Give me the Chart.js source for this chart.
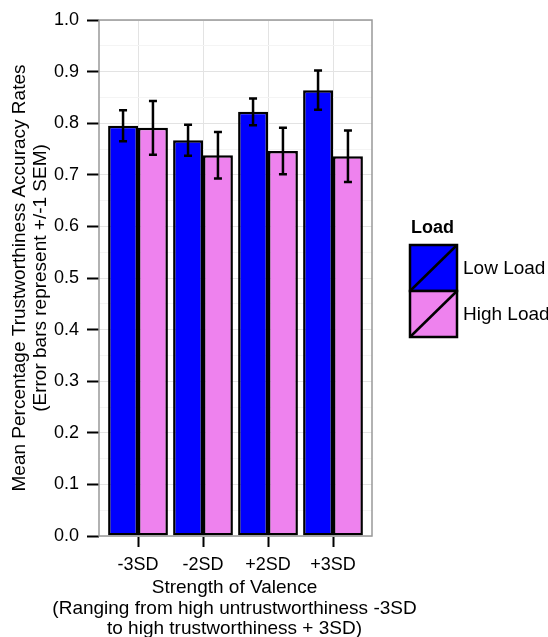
<!DOCTYPE html>
<html>
<head>
<meta charset="utf-8">
<script src="https://cdn.jsdelivr.net/npm/chart.js@4/dist/chart.umd.min.js"></script>
<style>
  body { margin: 0; background: #fff; }
  canvas { display: block; }
</style>
</head>
<body>
<canvas id="loadChart" width="548" height="637"></canvas>
<script>
const categories = ['-3SD', '-2SD', '+2SD', '+3SD'];
const lowLoad = [0.795, 0.767, 0.822, 0.864];
const lowLoadSem = [0.030, 0.030, 0.026, 0.038];
const highLoad = [0.791, 0.738, 0.746, 0.736];
const highLoadSem = [0.052, 0.045, 0.045, 0.050];
const xTitle = ['Strength of Valence',
    '(Ranging from high untrustworthiness -3SD',
    'to high trustworthiness + 3SD)'];
const yTitle = ['Mean Percentage Trustworthiness Accuracy Rates',
    '(Error bars represent +/-1 SEM)'];

const FONT = '"Liberation Sans", Arial, sans-serif';
Chart.defaults.font.family = FONT;
Chart.defaults.color = '#000';

// major gridlines every 0.1, faint minor ones in between
const isMajor = v => Math.round(v * 100) % 10 === 0;

// +/- 1 SEM whiskers on top of each bar
const errorBars = {
    id: 'errorBars',
    afterDatasetsDraw(chart) {
        const ctx = chart.ctx;
        const y = chart.scales.y;
        ctx.save();
        ctx.strokeStyle = '#000';
        ctx.lineWidth = 2.5;
        chart.data.datasets.forEach((ds, di) => {
            chart.getDatasetMeta(di).data.forEach((bar, i) => {
                const top = y.getPixelForValue(ds.data[i].y + ds.sem[i]);
                const bot = y.getPixelForValue(ds.data[i].y - ds.sem[i]);
                ctx.beginPath();
                ctx.moveTo(bar.x, top); ctx.lineTo(bar.x, bot);
                ctx.moveTo(bar.x - 4, top); ctx.lineTo(bar.x + 4, top);
                ctx.moveTo(bar.x - 4, bot); ctx.lineTo(bar.x + 4, bot);
                ctx.stroke();
            });
        });
        ctx.restore();
    }
};

// grey box round the plotting panel
const panelBorder = {
    id: 'panelBorder',
    afterDatasetsDraw(chart) {
        const { ctx, chartArea: a } = chart;
        ctx.save();
        ctx.strokeStyle = '#999';
        ctx.lineWidth = 1.5;
        ctx.strokeRect(a.left, a.top, a.right - a.left, a.bottom - a.top);
        ctx.restore();
    }
};

// axis titles drawn by hand: the x one is wider than the panel
const axisTitles = {
    id: 'axisTitles',
    afterDraw(chart) {
        const { ctx, chartArea: a } = chart;
        ctx.save();
        ctx.fillStyle = '#000';
        ctx.font = '19px ' + FONT;
        ctx.textAlign = 'center';
        ctx.textBaseline = 'alphabetic';
        const cx = (a.left + a.right) / 2 - 1;
        xTitle.forEach((line, i) => ctx.fillText(line, cx, 593 + i * 20.5));
        ctx.translate(0, (a.top + a.bottom) / 2);
        ctx.rotate(-Math.PI / 2);
        yTitle.forEach((line, i) => ctx.fillText(line, 0, 25 + i * 20.5));
        ctx.restore();
    }
};

// legend with diagonal-slashed keys
const loadLegend = {
    id: 'loadLegend',
    afterDraw(chart) {
        const ctx = chart.ctx;
        const x = 410, w = 47, h = 46, y0 = 245;
        ctx.save();
        ctx.fillStyle = '#000';
        ctx.font = 'bold 18px ' + FONT;
        ctx.textBaseline = 'alphabetic';
        ctx.fillText('Load', 411, 233);
        chart.data.datasets.forEach((ds, i) => {
            const y = y0 + i * h;
            ctx.fillStyle = ds.backgroundColor;
            ctx.fillRect(x, y, w, h);
            ctx.strokeStyle = '#000';
            ctx.lineWidth = 2.5;
            ctx.strokeRect(x, y, w, h);
            ctx.beginPath();
            ctx.moveTo(x, y + h);
            ctx.lineTo(x + w, y);
            ctx.stroke();
            ctx.fillStyle = '#000';
            ctx.font = '19px ' + FONT;
            ctx.textBaseline = 'middle';
            ctx.fillText(ds.label, 463, y + h / 2 + 1);
        });
        ctx.restore();
    }
};

const toPoints = vals => vals.map((v, i) => ({ x: i + 1, y: v }));

new Chart(document.getElementById('loadChart'), {
    type: 'bar',
    data: {
        datasets: [{
            label: 'Low Load',
            data: toPoints(lowLoad),
            sem: lowLoadSem,
            backgroundColor: '#0000FF',
            borderColor: '#000',
            borderWidth: 2.5,
            borderSkipped: false
        }, {
            label: 'High Load',
            data: toPoints(highLoad),
            sem: highLoadSem,
            backgroundColor: '#EE82EE',
            borderColor: '#000',
            borderWidth: 2.5,
            borderSkipped: false
        }]
    },
    options: {
        responsive: false,
        animation: false,
        categoryPercentage: 0.92,
        barPercentage: 1.0,
        layout: { padding: { top: 20, right: 176, bottom: 0, left: 0 } },
        plugins: {
            legend: { display: false },
            tooltip: { enabled: false }
        },
        scales: {
            x: {
                type: 'linear',
                min: 0.4,
                max: 4.6,
                offset: false,
                afterBuildTicks: s => { s.ticks = categories.map((c, i) => ({ value: i + 1 })); },
                afterFit: s => { s.height = 101; },
                border: { display: false },
                grid: {
                    offset: false,
                    color: '#E3E3E3',
                    tickColor: '#000',
                    tickLength: 11,
                    tickWidth: 2
                },
                ticks: {
                    autoSkip: false,
                    maxRotation: 0,
                    padding: 7,
                    font: { size: 18 },
                    callback: v => categories[v - 1]
                }
            },
            y: {
                min: 0,
                max: 1,
                afterFit: s => { s.width = 99; },
                border: { display: false },
                grid: {
                    color: c => isMajor(c.tick.value) ? '#E3E3E3' : '#F4F4F4',
                    tickColor: c => isMajor(c.tick.value) ? '#000' : 'rgba(0,0,0,0)',
                    tickLength: 12,
                    tickWidth: 2
                },
                ticks: {
                    stepSize: 0.05,
                    autoSkip: false,
                    padding: 8,
                    font: { size: 18 },
                    callback: v => isMajor(v) ? v.toFixed(1) : ''
                }
            }
        }
    },
    plugins: [panelBorder, errorBars, axisTitles, loadLegend]
});
</script>
</body>
</html>
